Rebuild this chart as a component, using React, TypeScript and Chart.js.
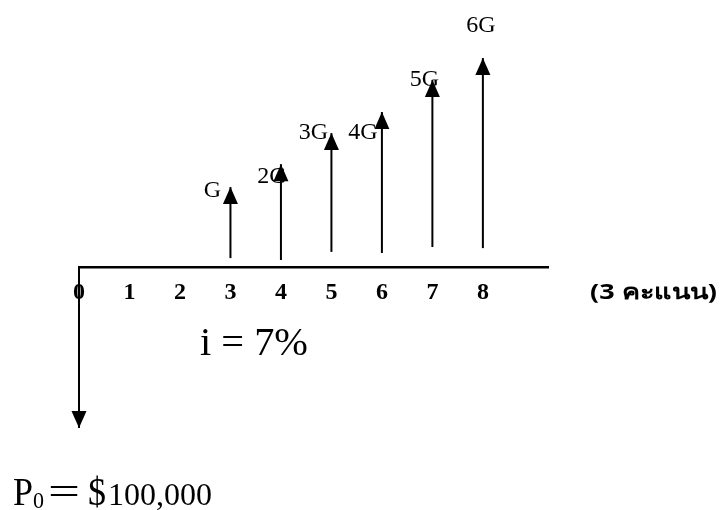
import { useEffect, useRef } from 'react';
import { Chart, registerables } from 'chart.js';

Chart.register(...registerables);

// ---------- data ----------
const tickValues = [0, 1, 2, 3, 4, 5, 6, 7, 8];
const gradientPeriods = [3, 4, 5, 6, 7, 8];
const gradientLabels = ['G', '2G', '3G', '4G', '5G', '6G'];
const arrowStarts = [0.33, 0.26, 0.56, 0.52, 0.74, 0.7];
const arrowEnds = [2.96, 3.81, 4.96, 5.74, 6.93, 7.74];
const initialPeriod = 0;
const initialStart = 0;
const initialEnd = -5.96;
const rateLabel = 'i = 7%';
const presentParts = ['P', '0', '=', '$', '100,000'];
const scoreLabel = '(3 คะแนน)';

// ---------- styles / layout ----------
const W = 722;
const H = 510;
const SERIF = "'Liberation Serif', 'Times New Roman', serif";
const HEAD_W = 15;
const HEAD_H = 17;
const labelOffsets: [number, number][] = [
  [-18, 4], [-9, 13], [-18, 0], [-19, 21], [-8, 0], [-2, -32.5],
];

function fitText(ctx: CanvasRenderingContext2D, text: string, x: number, y: number, font: string, width: number) {
  ctx.save();
  ctx.font = font;
  const m = ctx.measureText(text).width;
  ctx.translate(x, y);
  ctx.scale(width / m, 1);
  ctx.fillText(text, 0, 0);
  ctx.restore();
}

const arrowPlugin = {
  id: 'cashflowArrows',
  afterDatasetsDraw(chart: any) {
    const ctx: CanvasRenderingContext2D = chart.ctx;
    ctx.save();
    ctx.fillStyle = '#000';
    chart.data.datasets.forEach((_: any, i: number) => {
      const pts = chart.getDatasetMeta(i).data;
      const a = pts[0];
      const b = pts[pts.length - 1];
      const dir = b.y < a.y ? -1 : 1;
      ctx.beginPath();
      ctx.moveTo(b.x, b.y);
      ctx.lineTo(b.x - HEAD_W / 2, b.y - dir * HEAD_H);
      ctx.lineTo(b.x + HEAD_W / 2, b.y - dir * HEAD_H);
      ctx.closePath();
      ctx.fill();
    });
    // G labels next to arrow tips
    ctx.textAlign = 'center';
    ctx.textBaseline = 'middle';
    ctx.font = `24px ${SERIF}`;
    gradientLabels.forEach((lab, k) => {
      const pts = chart.getDatasetMeta(k + 1).data;
      const tip = pts[pts.length - 1];
      const [dx, dy] = labelOffsets[k];
      ctx.fillText(lab, tip.x + dx, tip.y + dy);
    });
    // annotations
    ctx.textAlign = 'left';
    ctx.textBaseline = 'alphabetic';
    fitText(ctx, rateLabel, 200, 355, `39px ${SERIF}`, 108);
    fitText(ctx, presentParts[0], 13, 505, `40px ${SERIF}`, 20);
    fitText(ctx, presentParts[1], 33, 508, `24px ${SERIF}`, 11);
    fitText(ctx, presentParts[2], 48, 505, `40px ${SERIF}`, 32);
    fitText(ctx, presentParts[3], 88, 505, `40px ${SERIF}`, 18);
    fitText(ctx, presentParts[4], 108, 505, `32px ${SERIF}`, 104);
    ctx.textBaseline = 'middle';
    fitText(ctx, scoreLabel, 590, 293, "bold 21px 'Noto Sans', 'DejaVu Sans', sans-serif", 127);
    ctx.restore();
  },
};

export default function App() {
  const ref = useRef<HTMLCanvasElement>(null);
  useEffect(() => {
    if (!ref.current) return;
    const datasets = [
      {
        data: [
          { x: initialPeriod, y: initialStart },
          { x: initialPeriod, y: initialEnd },
        ],
      },
      ...gradientPeriods.map((p, k) => ({
        data: [
          { x: p, y: arrowStarts[k] },
          { x: p, y: arrowEnds[k] },
        ],
      })),
    ].map((d) => ({
      ...d,
      showLine: true,
      borderColor: '#000',
      borderWidth: 2,
      pointRadius: 0,
      pointHoverRadius: 0,
      clip: false as any,
    }));
    const chart = new Chart(ref.current, {
      type: 'scatter',
      data: { datasets },
      options: {
        animation: false,
        responsive: false,
        devicePixelRatio: 1,
        layout: { padding: { left: 79, right: 174, top: 0, bottom: 0 } },
        plugins: { legend: { display: false }, tooltip: { enabled: false } },
        scales: {
          x: {
            type: 'linear',
            position: { y: 0 } as any,
            min: 0,
            max: 9.29,
            afterBuildTicks: (scale: any) => {
              scale.ticks = tickValues.map((v) => ({ value: v }));
            },
            grid: { display: false, drawTicks: false },
            border: { display: true, color: '#000', width: 2.5 },
            ticks: {
              color: '#000',
              padding: 11,
              autoSkip: false,
              maxRotation: 0,
              font: { family: SERIF, size: 24, weight: 'bold' },
              callback: (v: any) => String(v),
            },
          },
          y: {
            type: 'linear',
            display: false,
            min: -9,
            max: 9.89,
          },
        },
      },
      plugins: [arrowPlugin],
    });
    return () => chart.destroy();
  }, []);
  return (
    <div style={{ position: 'fixed', left: 0, top: 0, width: W, height: H, background: '#fff' }}>
      <canvas ref={ref} width={W} height={H} style={{ width: W, height: H, display: 'block' }} />
    </div>
  );
}
